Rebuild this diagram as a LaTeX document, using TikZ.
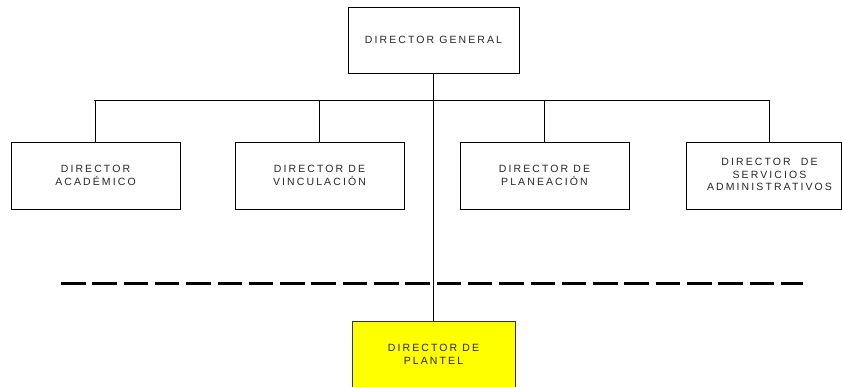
\documentclass[tikz,border=0pt]{standalone}
\usepackage{fontspec}
\newfontfamily\lblfont[LetterSpace=20]{Liberation Sans}
\definecolor{pureyellow}{RGB}{255,255,0}
\begin{document}
\begin{tikzpicture}[x=1pt,y=-1pt,
  box/.style={draw=black, line width=0.9pt, minimum width=169pt, minimum height=67pt,
    inner sep=0pt, align=center, text=black!85,
    font=\lblfont\fontsize{10.5}{12.7}\selectfont},
  conn/.style={draw=black, line width=0.9pt},
  sep/.style={draw=black, line width=3pt, dash pattern=on 24.5pt off 6.8pt}]
\useasboundingbox (0,0) rectangle (842,387);
\node[box, minimum width=171pt, minimum height=66pt] (gen) at (433.5,40) {DIRECTOR GENERAL};
\node[box] (aca) at (95.5,175.5) {DIRECTOR\\ACADÉMICO};
\node[box] (vin) at (319.5,175.5) {DIRECTOR DE\\VINCULACIÓN};
\node[box] (pla) at (544.5,175.5) {DIRECTOR DE\\PLANEACIÓN};
\node[box, minimum width=155pt, align=none] (ser) at (763.5,175.5)
  {\hspace*{12pt}\begin{tabular}{@{}c@{}}DIRECTOR \ DE\\SERVICIOS\\ADMINISTRATIVOS\end{tabular}};
\node[box, fill=pureyellow, draw=black!80, minimum width=163pt] (pln) at (433.5,354.5) {DIRECTOR DE\\PLANTEL};
\coordinate (hl) at (94,100);
\coordinate (hr) at (769,100);
\coordinate (dl) at (61,283);
\coordinate (dr) at (803,283);
\draw[sep] (dl) -- (dr);
\draw[conn] (hl) -- (hr);
\draw[conn] (gen.south) -- (pln.north);
\draw[conn] (aca.north) -- (aca.north |- hl);
\draw[conn] (vin.north) -- (vin.north |- hl);
\draw[conn] (pla.north) -- (pla.north |- hl);
\draw[conn] (hr) -- (hr |- ser.north);
\end{tikzpicture}
\end{document}
